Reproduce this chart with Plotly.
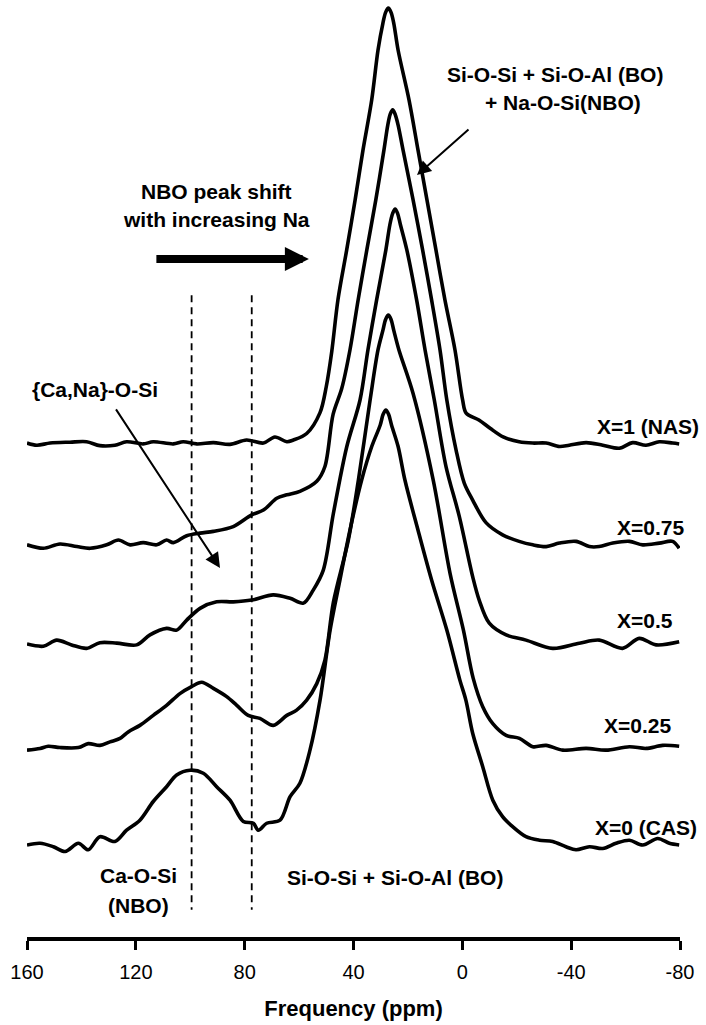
import plotly.graph_objects as go

# ---------------- data ----------------
# intensities normalised to the main peak (baseline = 0, peak = 1)
ppm_x1 = [160, 156.4, 151.5, 144.2, 138.1, 133.2, 127.7, 123.4, 117.3, 113.6, 106.2, 102.6, 97.6, 91.5,
          85.4, 79.3, 73.1, 68.9, 64.5, 62.1, 57.2, 52.3, 50.0, 48.0, 45.7, 42.5, 39.4, 36.5, 33.3, 31.0,
          29.2, 28.2, 27.2, 26.2, 25.2, 23.6, 19.6, 16.3, 13.0, 9.7, 6.4, 2.7, -0.1, -1.4, -6.1, -10.2, -15.0, -20.9,
          -25.9, -30.8, -35.7, -39.3, -45.5, -51.6, -57.7, -62.6, -67.5, -72.4, -77.3, -79.7]
int_x1 = [0, -0.005, 0.0, 0.002, 0.003, -0.006, -0.005, 0.003, -0.002, 0.003, -0.002, 0.003, -0.002, 0.001,
          -0.003, 0.007, 0.0, 0.014, 0.003, 0.007, 0.022, 0.07, 0.13, 0.21, 0.33, 0.444, 0.559, 0.674, 0.789, 0.903,
          0.965, 0.99, 1.0, 0.99, 0.965, 0.903, 0.789, 0.674, 0.559, 0.444, 0.329, 0.214, 0.099, 0.069, 0.053, 0.034, 0.014, 0.003,
          0.0, 0.0, -0.008, -0.005, 0.001, -0.005, -0.012, 0.001, -0.005, 0.003, 0.0, -0.002]

ppm_x075 = [160, 154, 147.9, 141.7, 136.8, 130.7, 126.4, 122.1, 117.3, 112.3, 108.7, 106.2, 101.3, 96.4,
            91.5, 84.2, 77.4, 73.1, 68.2, 64.5, 59.7, 53.5, 50.5, 47.5, 44.3, 41.3, 38.3, 35.1, 31.8, 28.8,
            27.4, 26.5, 25.6, 24.7, 23.6, 21.8, 18.1, 14.6, 11.3, 8.2, 5.7, 2.3, -0.7, -3.8, -8.7, -14.8, -20.9, -25.9,
            -30.8, -35.7, -41.8, -46.7, -50.3, -55.3, -61.4, -66.3, -72.4, -77.3, -79.7]
int_x075 = [0, -0.008, 0.002, -0.004, -0.008, 0.0, 0.011, 0.0, 0.005, 0.0, 0.011, 0.005, 0.021, 0.027,
            0.031, 0.042, 0.069, 0.080, 0.107, 0.115, 0.123, 0.146, 0.18, 0.30, 0.36, 0.448, 0.563, 0.678, 0.793, 0.908,
            0.965, 0.99, 1.0, 0.99, 0.965, 0.908, 0.793, 0.678, 0.563, 0.448, 0.333, 0.218, 0.142, 0.103, 0.051, 0.023, 0.008, 0.0,
            -0.004, 0.004, 0.008, -0.004, -0.004, 0.004, 0.008, 0.0, 0.004, 0.008, -0.008]

ppm_x05 = [160, 154, 149.1, 143.6, 138.1, 133.2, 127.0, 119.7, 114.8, 108.7, 105.0, 101.3, 96.4, 90.3,
           84.2, 77.4, 69.5, 63.3, 58.4, 54.8, 51.1, 47.4, 42.5, 37.6, 34.7, 31.5, 28.1, 26.6, 25.6, 24.7, 23.8,
           22.8, 20.4, 16.8, 13.7, 10.3, 6.0, 1.1, -3.8, -6.2, -9.9, -16.1, -23.4, -33.2, -43.0, -50.3, -58.9,
           -65.0, -71.2, -79.7]
int_x05 = [0, -0.005, 0.009, -0.002, -0.010, 0.003, 0.002, -0.002, 0.021, 0.036, 0.032, 0.055, 0.082, 0.097,
           0.097, 0.101, 0.113, 0.105, 0.094, 0.124, 0.17, 0.30, 0.453, 0.561, 0.676, 0.791, 0.906, 0.965, 0.99, 1.0, 0.99,
           0.965, 0.906, 0.791, 0.676, 0.561, 0.408, 0.293, 0.155, 0.101, 0.048, 0.021, 0.009, -0.010, 0.002, 0.009, -0.010,
           0.013, -0.002, 0.005]

ppm_x025 = [160, 155.2, 152.2, 147.9, 141.1, 137.5, 133.2, 129.5, 125.8, 122.8, 118.5, 113.6, 108.7, 103.8,
            99.5, 95.8, 91.5, 86.6, 82.9, 78.7, 74.4, 69.5, 64.5, 60.9, 57.2, 53.5, 50.5, 47.4, 41.9, 38.2,
            33.9, 31.0, 29.2, 28.2, 27.2, 26.2, 25.2, 23.3, 18.1, 10.7, 4.5, -0.4, -4.0, -7.5, -11.2, -16.1, -21.0, -25.9,
            -30.8, -36.9, -45.5, -52.8, -61.4, -67.5, -73.6, -79.7]
int_x025 = [0, 0.004, 0.009, 0.006, 0.006, 0.015, 0.011, 0.019, 0.027, 0.042, 0.057, 0.080, 0.103, 0.130,
            0.146, 0.156, 0.142, 0.123, 0.103, 0.080, 0.073, 0.057, 0.080, 0.092, 0.115, 0.153, 0.207, 0.34, 0.483, 0.621,
            0.805, 0.920, 0.965, 0.99, 1.0, 0.99, 0.965, 0.920, 0.82, 0.621, 0.406, 0.276, 0.165, 0.100, 0.061, 0.034, 0.027, 0.008,
            0.011, 0.0, 0.004, 0.0, 0.008, 0.004, 0.011, 0.009]

ppm_x0 = [160, 155.2, 150.3, 146.0, 141.1, 137.5, 133.2, 127.7, 123.4, 118.5, 113.6, 108.7, 105.0, 100.1,
          95.2, 90.3, 85.4, 80.5, 76.8, 75.0, 71.9, 67.0, 63.3, 59.7, 56.0, 52.3, 48.6, 45.0, 41.3, 37.0,
          33.3, 30.2, 29.1, 28.1, 27.1, 26.0, 23.6, 21.1, 16.3, 11.3, 5.7, 0.9, -1.3, -3.8, -7.5, -11.2, -14.8, -18.5,
          -23.4, -28.3, -33.2, -38.1, -41.8, -46.7, -51.6, -56.5, -61.4, -66.3, -71.8, -76.1, -79.7]
int_x0 = [0, 0.004, -0.004, -0.015, 0.004, -0.011, 0.019, 0.008, 0.034, 0.057, 0.100, 0.134, 0.161, 0.172,
          0.165, 0.134, 0.103, 0.054, 0.050, 0.034, 0.050, 0.057, 0.111, 0.142, 0.218, 0.333, 0.494, 0.609, 0.724, 0.839,
          0.916, 0.965, 0.99, 1.0, 0.99, 0.965, 0.916, 0.839, 0.724, 0.609, 0.494, 0.379, 0.333, 0.257, 0.180, 0.103, 0.065, 0.042,
          0.019, 0.011, 0.008, -0.004, -0.011, -0.004, -0.008, 0.004, 0.011, 0.0, 0.015, 0.004, 0.0]

series_names = ["X=1 (NAS)", "X=0.75", "X=0.5", "X=0.25", "X=0 (CAS)"]
series_ppm = [ppm_x1, ppm_x075, ppm_x05, ppm_x025, ppm_x0]
series_int = [int_x1, int_x075, int_x05, int_x025, int_x0]
stack_offsets = [0.924, 0.690, 0.462, 0.218, 0.0]

# dashed marker lines (ppm)
marker_ppm = [99.5, 77.4]
marker_y = [1.264, -0.149]

x_ticks = [160, 120, 80, 40, 0, -40, -80]
x_tick_labels = ["160", "120", "80", "40", "0", "-40", "-80"]

FONT = "Arial, 'Liberation Sans', Helvetica, sans-serif"

fig = go.Figure()

for name, xs, ys, off in zip(series_names, series_ppm, series_int, stack_offsets):
    fig.add_trace(go.Scatter(
        x=xs, y=[v + off for v in ys], mode="lines", name=name,
        line=dict(color="black", width=3.6, shape="spline", smoothing=0.9),
        showlegend=False, hoverinfo="skip"))

for xp in marker_ppm:
    fig.add_trace(go.Scatter(
        x=[xp, xp], y=marker_y, mode="lines",
        line=dict(color="black", width=1.8, dash="7px,5px"),
        showlegend=False, hoverinfo="skip"))

bold = dict(family=FONT, size=21, color="black")

def label(text, x, y, **kw):
    fig.add_annotation(x=x, y=y, xref="x", yref="y", text="<b>%s</b>" % text,
                       showarrow=False, font=bold, xanchor="center", yanchor="middle", **kw)

# curve labels
label("X=1 (NAS)", -68.2, 0.963)
label("X=0.75", -69.3, 0.729)
label("X=0.5", -67.1, 0.515)
label("X=0.25", -64.2, 0.274)
label("X=0 (CAS)", -67.5, 0.041)

# region labels
label("Ca-O-Si", 119.2, -0.069)
label("(NBO)", 119.0, -0.140)
label("Si-O-Si + Si-O-Al (BO)", 24.75, -0.074)
label("Si-O-Si + Si-O-Al (BO)", -34.1, 1.772)
label("+ Na-O-Si(NBO)", -37.0, 1.708)
label("NBO peak shift", 90.5, 1.503)
label("with increasing Na", 90.5, 1.437)
label("{Ca,Na}-O-Si", 135.0, 1.046)

# arrows
fig.add_annotation(x=16.66, y=1.540, xref="x", yref="y", ax=53, ay=-47, text="",
                   showarrow=True, arrowhead=2, arrowsize=1.4, arrowwidth=2, arrowcolor="black")
fig.add_annotation(x=89.06, y=0.637, xref="x", yref="y", ax=-105, ay=-160, text="",
                   showarrow=True, arrowhead=2, arrowsize=1.5, arrowwidth=2, arrowcolor="black")
fig.add_annotation(x=56.4, y=1.347, xref="x", yref="y", ax=-154, ay=0, text="",
                   showarrow=True, arrowhead=2, arrowsize=0.6, arrowwidth=8, arrowcolor="black")

fig.update_layout(
    width=706, height=1025,
    margin=dict(l=27, r=26, t=5, b=88),
    paper_bgcolor="white", plot_bgcolor="white",
    font=dict(family=FONT, color="black"),
    showlegend=False,
    xaxis=dict(
        range=[160, -80], tickvals=x_ticks, ticktext=x_tick_labels,
        ticks="outside", ticklen=9, tickwidth=3, tickcolor="black",
        showline=True, linewidth=4, linecolor="black",
        showgrid=False, zeroline=False,
        tickfont=dict(family=FONT, size=20, color="black"),
        ticklabelstandoff=5,
        title=dict(text="<b>Frequency (ppm)</b>", font=dict(family=FONT, size=22, color="black"), standoff=20),
        automargin=False,
    ),
    yaxis=dict(range=[-0.2115, 1.931], visible=False, showgrid=False, zeroline=False, fixedrange=True),
)

fig.write_html("out.html", config={"displayModeBar": False},
               post_script="document.body.style.margin='0';document.body.style.overflow='hidden';")
